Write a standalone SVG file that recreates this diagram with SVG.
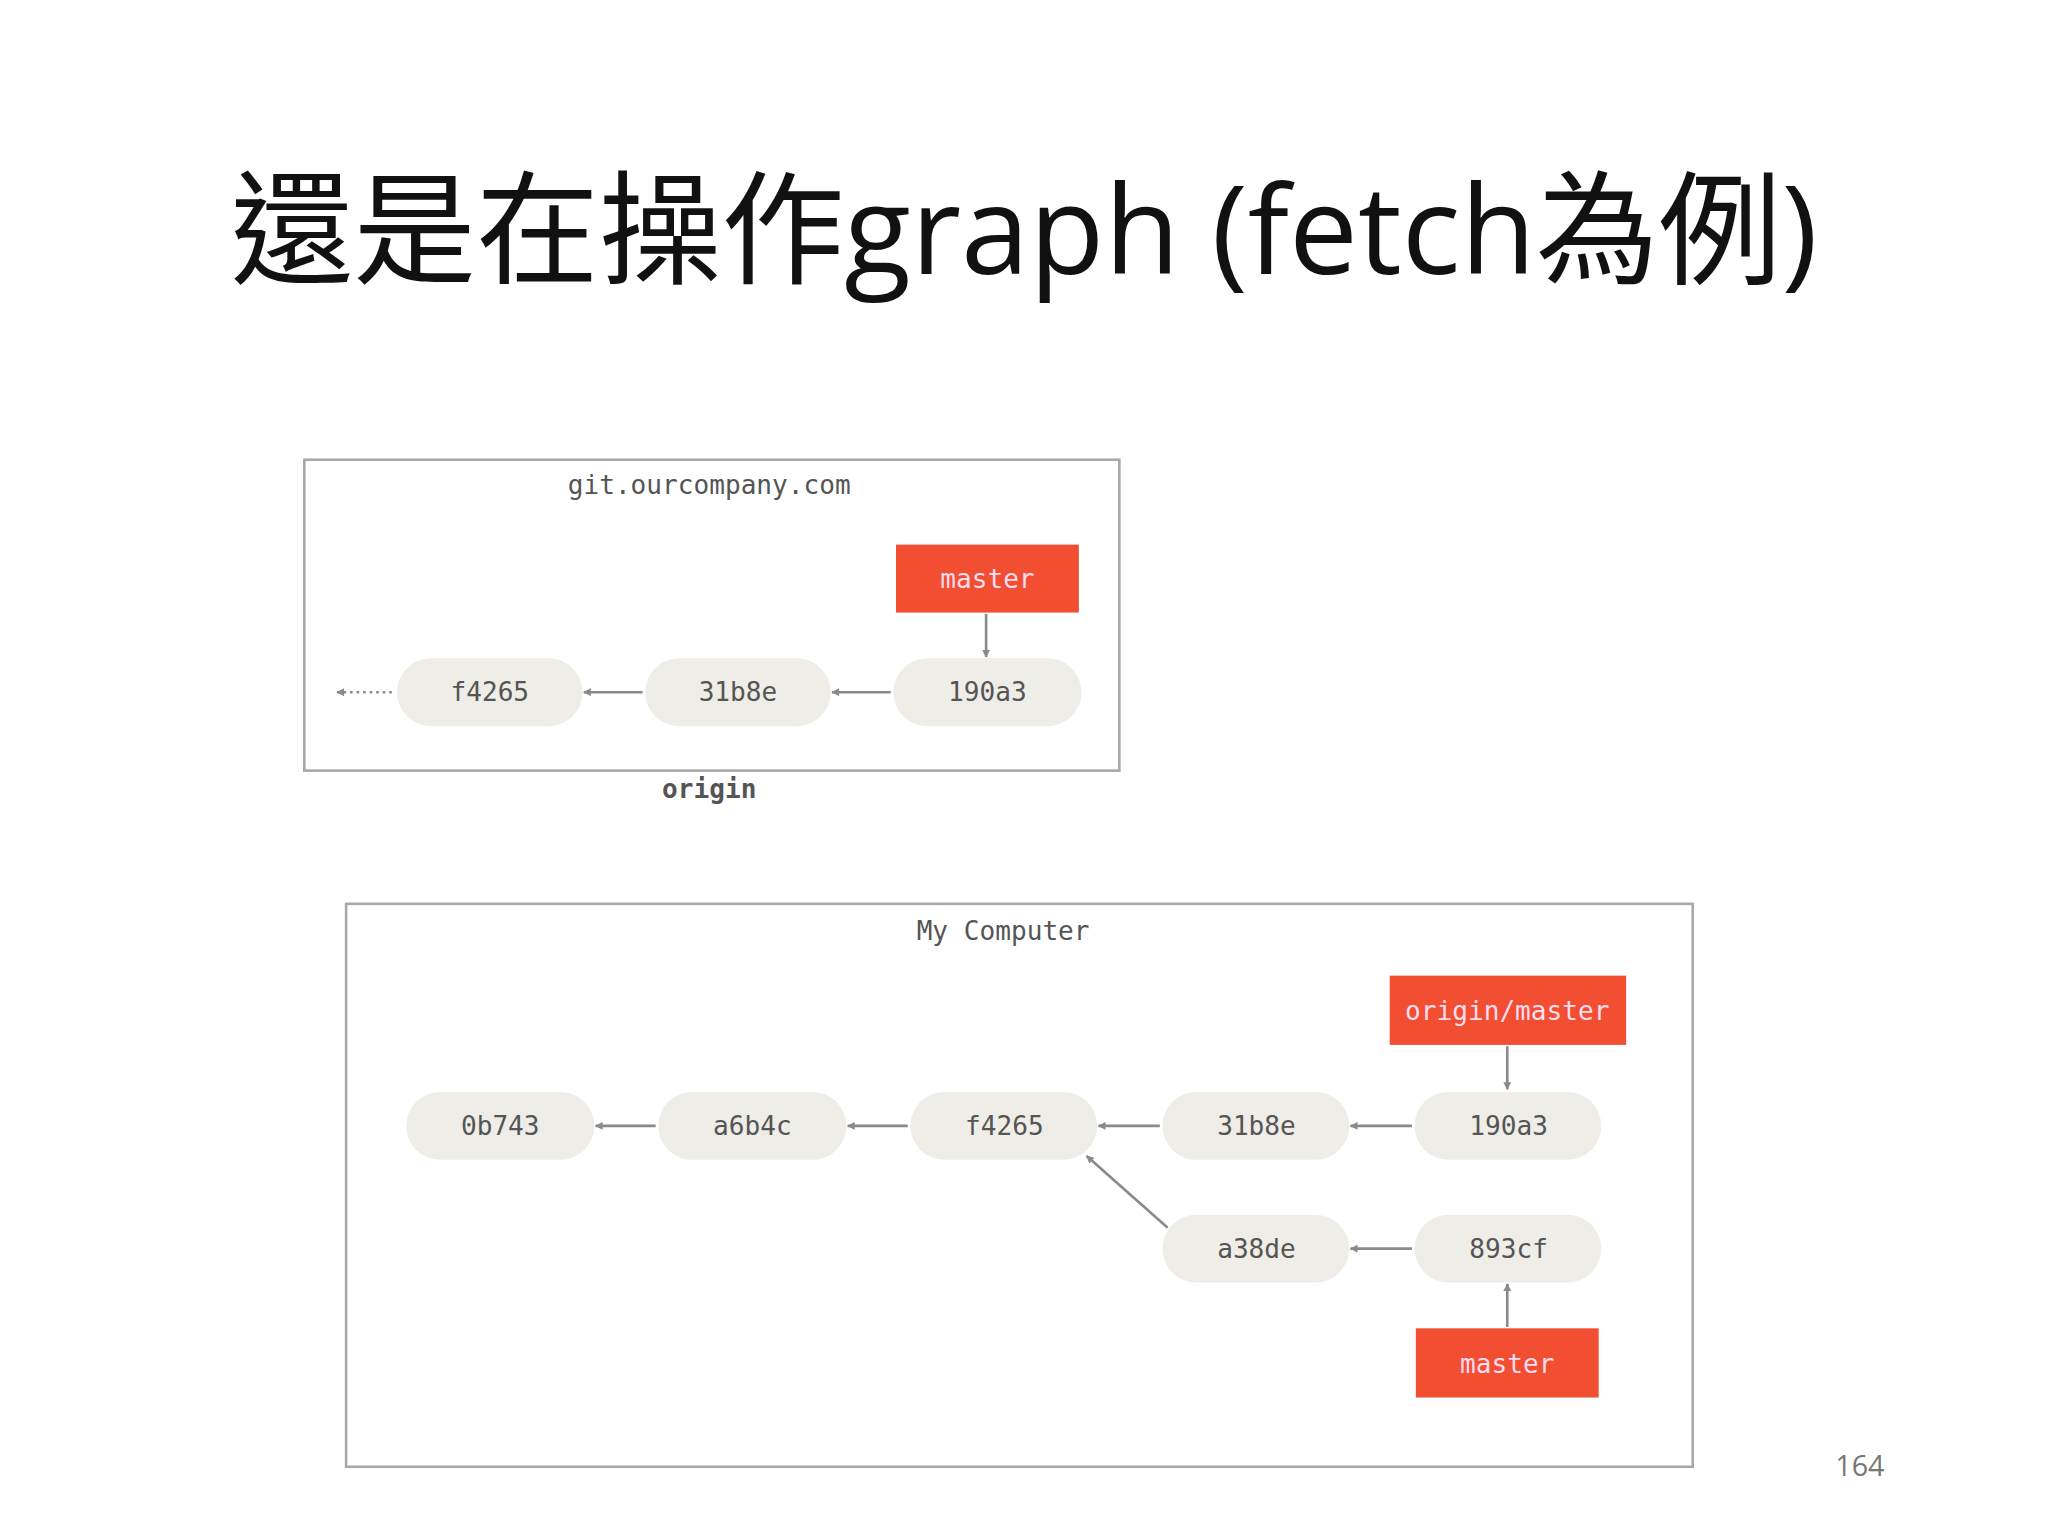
<svg xmlns="http://www.w3.org/2000/svg" width="2048" height="1536" viewBox="0 0 2048 1536">
<defs>
<style>
.box{fill:none;stroke:#a8a8a8;stroke-width:2}
.c rect{fill:#efede7}
.c text,.lbl{font-family:"DejaVu Sans Mono","Liberation Mono",monospace;font-size:20px;fill:#555;text-anchor:middle}
.r rect{fill:#f14e32}
.r text{font-family:"DejaVu Sans Mono","Liberation Mono",monospace;font-size:20px;fill:#fde;text-anchor:middle}
.e{stroke:#8a8a8a;stroke-width:2;fill:none;marker-end:url(#a)}
</style>
<marker id="a" viewBox="0 0 10 10" refX="9" refY="5" markerWidth="8" markerHeight="6" orient="auto" markerUnits="userSpaceOnUse"><path d="M0,0L10,5L0,10z" fill="#8a8a8a"/></marker>
</defs>
<rect width="2048" height="1536" fill="#fff"/>
<g transform="scale(1.30612)">
<text x="784" y="210" font-family="'Open Sans','Noto Sans CJK TC',sans-serif" font-size="94" text-anchor="middle" fill="#111">還是在操作graph (fetch為例)</text>
<text x="1424" y="1130" font-family="'Open Sans',sans-serif" font-size="22" text-anchor="middle" fill="#777">164</text>
<g id="origin-box"><rect class="box" x="233" y="352" width="624" height="238"/><text class="lbl" x="543" y="378">git.ourcompany.com</text><text class="lbl" x="543" y="611" font-weight="bold" fill="#333">origin</text></g>
<g id="o-master" class="r"><rect x="686" y="417" width="140" height="52"/><text x="756" y="450">master</text></g>
<g id="o-f4265" class="c"><rect x="304" y="504" width="142" height="52" rx="26"/><text x="375" y="537">f4265</text></g>
<g id="o-31b8e" class="c"><rect x="494" y="504" width="142" height="52" rx="26"/><text x="565" y="537">31b8e</text></g>
<g id="o-190a3" class="c"><rect x="684" y="504" width="144" height="52" rx="26"/><text x="756" y="537">190a3</text></g>
<g id="mc-box"><rect class="box" x="265" y="692" width="1031" height="431"/><text class="lbl" x="768" y="720">My Computer</text></g>
<g id="l-om" class="r"><rect x="1064" y="747" width="181" height="53"/><text x="1154" y="781">origin/master</text></g>
<g id="l-0b743" class="c"><rect x="311" y="836" width="144" height="52" rx="26"/><text x="383" y="869">0b743</text></g>
<g id="l-a6b4c" class="c"><rect x="504" y="836" width="144" height="52" rx="26"/><text x="576" y="869">a6b4c</text></g>
<g id="l-f4265" class="c"><rect x="697" y="836" width="143" height="52" rx="26"/><text x="769" y="869">f4265</text></g>
<g id="l-31b8e" class="c"><rect x="890" y="836" width="143" height="52" rx="26"/><text x="962" y="869">31b8e</text></g>
<g id="l-190a3" class="c"><rect x="1083" y="836" width="143" height="52" rx="26"/><text x="1155" y="869">190a3</text></g>
<g id="l-a38de" class="c"><rect x="890" y="930" width="143" height="52" rx="26"/><text x="962" y="963">a38de</text></g>
<g id="l-893cf" class="c"><rect x="1083" y="930" width="143" height="52" rx="26"/><text x="1155" y="963">893cf</text></g>
<g id="l-master" class="r"><rect x="1084" y="1017" width="140" height="53"/><text x="1154" y="1051">master</text></g>
<g id="edges">
<path class="e" d="M300,530H258" stroke-dasharray="2,3"/>
<path class="e" d="M492,530H447"/>
<path class="e" d="M682,530H637"/>
<path class="e" d="M755,470V503"/>
<path class="e" d="M502,862H456"/>
<path class="e" d="M695,862H649"/>
<path class="e" d="M888,862H841"/>
<path class="e" d="M1081,862H1034"/>
<path class="e" d="M1154,801V834"/>
<path class="e" d="M1081,956H1034"/>
<path class="e" d="M894,940L832,885"/>
<path class="e" d="M1154,1016V983"/>
</g>
</g>
</svg>
